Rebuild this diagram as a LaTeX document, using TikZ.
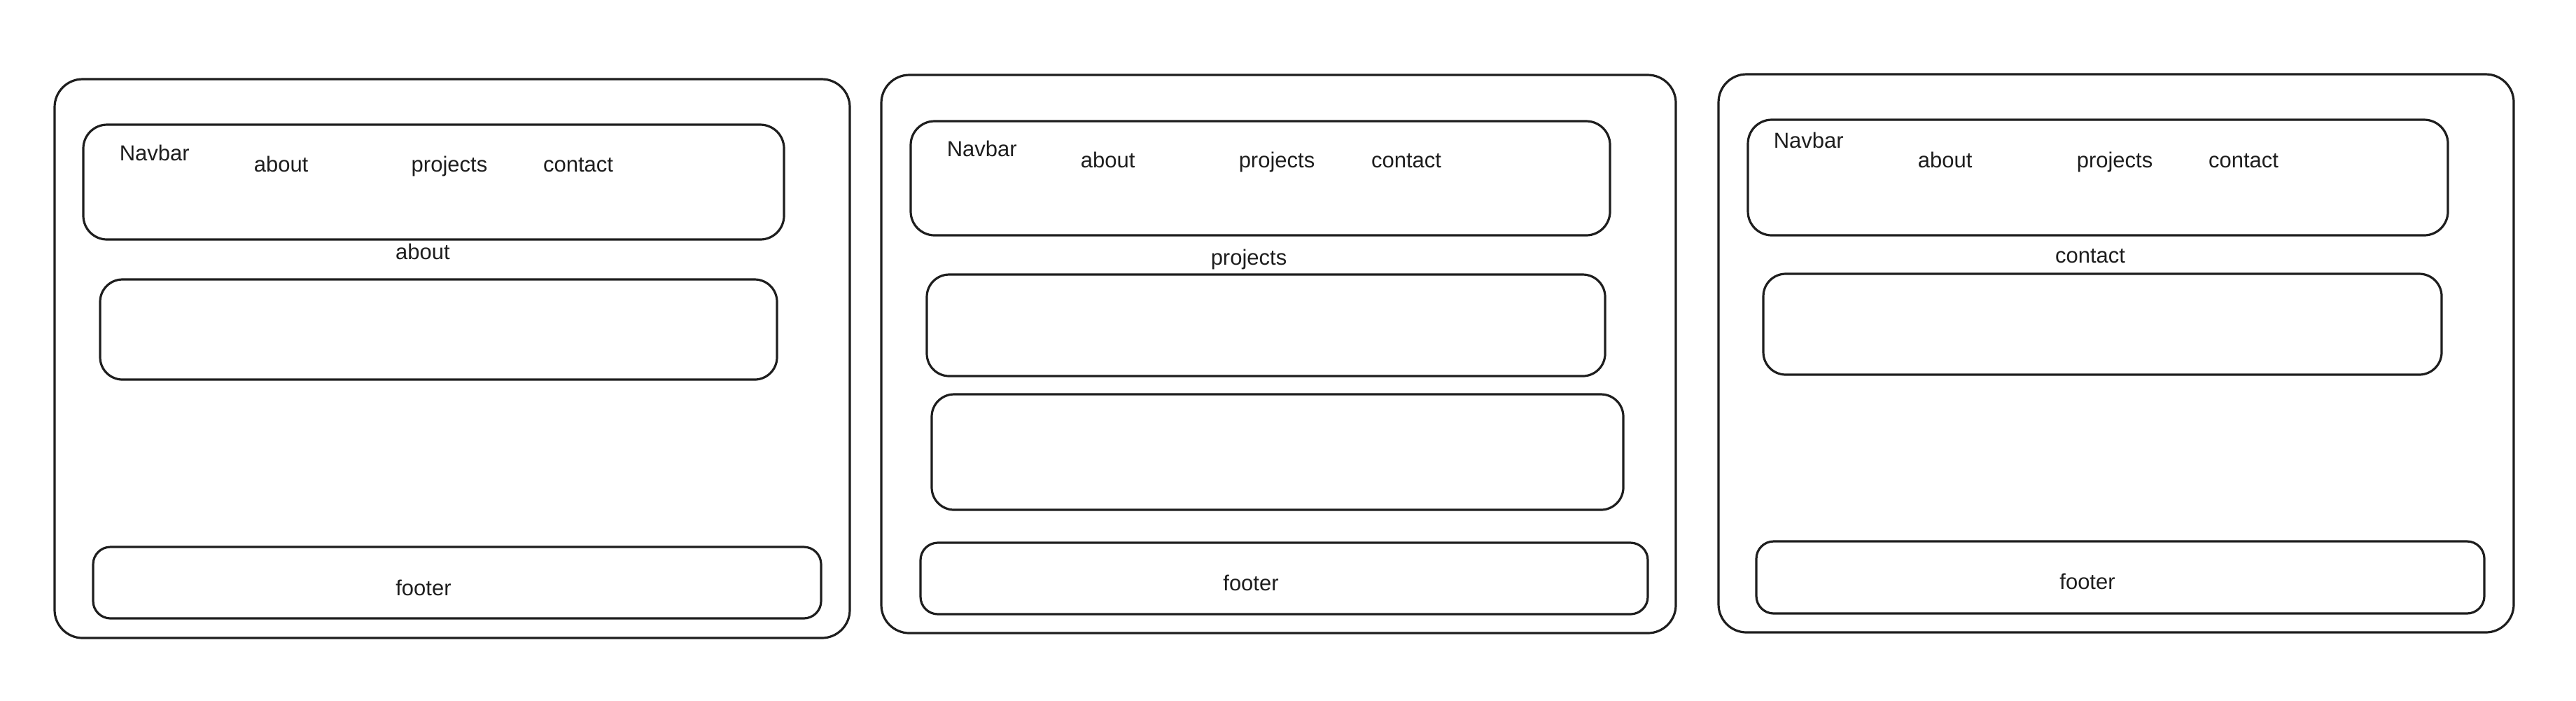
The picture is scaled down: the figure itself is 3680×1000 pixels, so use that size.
\documentclass[tikz,border=0pt]{standalone}
\usepackage{fontspec}
\setmainfont{Liberation Sans}
\usetikzlibrary{fit}
\definecolor{ink}{HTML}{1E1E1E}
\begin{document}
\begin{tikzpicture}[x=0.25pt,y=-0.25pt,
  shape base/.style={draw=ink, line width=0.8pt, inner sep=0pt, outer sep=0pt, rectangle},
  panel/.style={shape base, rounded corners=10pt},
  navbox/.style={shape base, rounded corners=8.5pt},
  contentbox/.style={shape base, rounded corners=8pt},
  footbox/.style={shape base, rounded corners=6.2pt},
  lbl/.style={text=ink, inner sep=0pt, font=\fontsize{7.75}{9}\selectfont},
]
\useasboundingbox (0,0) rectangle (3680,1000);

% ---------- Panel 1 : about ----------
\node[panel, fit={(78,113) (1214,911)}] (p1) {};
\node[navbox, fit={(119,178) (1120,342)}] (p1nav) {};
\node[contentbox, fit={(143,399) (1110,542)}] (p1c1) {};
\node[footbox, fit={(133,781) (1173,883)}] (p1foot) {};
\node[lbl, anchor=base west] (p1navlbl) at (170,229) {Navbar};
\node[lbl, anchor=base west] (p1about) at (362,245) {about};
\node[lbl, anchor=base] (p1proj) at (642,245) {projects};
\node[lbl, anchor=base] (p1cont) at (826,245) {contact};
\node[lbl, anchor=base] (p1title) at (604,370) {about};
\node[lbl, anchor=base] (p1footlbl) at (605,850) {footer};

% ---------- Panel 2 : projects ----------
\node[panel, fit={(1259,107) (2394,904)}] (p2) {};
\node[navbox, fit={(1301,173) (2300,336)}] (p2nav) {};
\node[contentbox, fit={(1324,392) (2293,537)}] (p2c1) {};
\node[contentbox, fit={(1331,563) (2319,728)}] (p2c2) {};
\node[footbox, fit={(1315,775) (2354,877)}] (p2foot) {};
\node[lbl, anchor=base west] (p2navlbl) at (1352,223) {Navbar};
\node[lbl, anchor=base west] (p2about) at (1543,239) {about};
\node[lbl, anchor=base] (p2proj) at (1824,239) {projects};
\node[lbl, anchor=base] (p2cont) at (2009,239) {contact};
\node[lbl, anchor=base] (p2title) at (1784,378) {projects};
\node[lbl, anchor=base] (p2footlbl) at (1787,843) {footer};

% ---------- Panel 3 : contact ----------
\node[panel, fit={(2455,106) (3591,903)}] (p3) {};
\node[navbox, fit={(2497,171) (3497,336)}] (p3nav) {};
\node[contentbox, fit={(2519,391) (3488,535)}] (p3c1) {};
\node[footbox, fit={(2509,773) (3549,876)}] (p3foot) {};
\node[lbl, anchor=base west] (p3navlbl) at (2533,211) {Navbar};
\node[lbl, anchor=base west] (p3about) at (2739,239) {about};
\node[lbl, anchor=base] (p3proj) at (3021,239) {projects};
\node[lbl, anchor=base] (p3cont) at (3205,239) {contact};
\node[lbl, anchor=base] (p3title) at (2986,375) {contact};
\node[lbl, anchor=base] (p3footlbl) at (2982,841) {footer};
\end{tikzpicture}
\end{document}
